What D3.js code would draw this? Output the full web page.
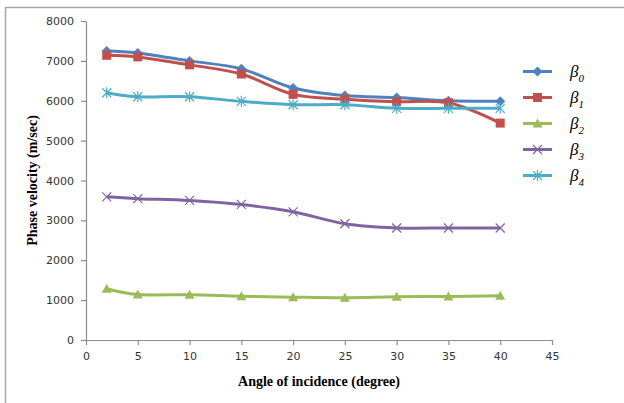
<!DOCTYPE html>
<html>
<head>
<meta charset="utf-8">
<script src="https://cdn.jsdelivr.net/npm/d3@7"></script>
<style>
  body { margin: 0; background: #fff; }
  svg { display: block; }
</style>
</head>
<body>
<div id="chart"></div>
<script>
// data
const angles = [2, 5, 10, 15, 20, 25, 30, 35, 40];
const beta0 = [7250, 7200, 7000, 6800, 6320, 6130, 6080, 6000, 5990];
const beta1 = [7140, 7100, 6900, 6670, 6160, 6040, 5975, 5950, 5440];
const beta2 = [1285, 1140, 1135, 1100, 1075, 1060, 1085, 1090, 1110];
const beta3 = [3590, 3545, 3500, 3400, 3215, 2915, 2810, 2810, 2810];
const beta4 = [6200, 6100, 6100, 5985, 5900, 5900, 5810, 5810, 5810];
const seriesNames = ["0", "1", "2", "3", "4"];
const xTicks = [0, 5, 10, 15, 20, 25, 30, 35, 40, 45];
const yTicks = [0, 1000, 2000, 3000, 4000, 5000, 6000, 7000, 8000];

const width = 624, height = 403;
const margin = {top: 21, right: 72, bottom: 63, left: 86};

const svg = d3.select("#chart")
  .append("svg")
    .attr("width", width)
    .attr("height", height);

// outer frame of the chart area
svg.append("rect")
  .attr("x", 5.5).attr("y", 7.5)
  .attr("width", 700).attr("height", 500)
  .attr("fill", "none")
  .attr("stroke", "#a6a6a6")
  .attr("stroke-width", 1.5);

const x = d3.scaleLinear()
  .domain([0, 45])
  .range([margin.left, width - margin.right]);
const y = d3.scaleLinear()
  .domain([0, 8000])
  .range([height - margin.bottom, margin.top]);

// axes
const xAxis = svg.append("g")
  .attr("transform", `translate(0, ${y(0)})`)
  .call(d3.axisBottom(x).tickValues(xTicks).tickFormat(d3.format("d"))
    .tickSize(5).tickSizeOuter(0).tickPadding(7));
const yAxis = svg.append("g")
  .attr("transform", `translate(${x(0)}, 0)`)
  .call(d3.axisLeft(y).tickValues(yTicks).tickFormat(d3.format("d"))
    .tickSize(5).tickSizeOuter(0).tickPadding(7));

[xAxis, yAxis].forEach(a => {
  a.selectAll("path, line").attr("stroke", "#8c8c8c").attr("stroke-width", 1.2);
  a.selectAll("text")
    .style("font-family", "DejaVu Sans, Verdana, sans-serif")
    .style("font-size", "11px")
    .attr("fill", "#333");
});

// axis titles
svg.append("text")
  .attr("x", x(22.5))
  .attr("y", 386)
  .attr("text-anchor", "middle")
  .style("font-family", "Liberation Serif, Times New Roman, serif")
  .style("font-weight", "bold")
  .style("font-size", "14px")
  .text("Angle of incidence (degree)");

svg.append("text")
  .attr("transform", `translate(37, ${y(4000)}) rotate(-90)`)
  .attr("text-anchor", "middle")
  .style("font-family", "Liberation Serif, Times New Roman, serif")
  .style("font-weight", "bold")
  .style("font-size", "14px")
  .text("Phase velocity (m/sec)");

const colors = ["#4f81bd", "#c0504d", "#9bbb59", "#8064a2", "#4bacc6"];
const allSeries = [beta0, beta1, beta2, beta3, beta4];

// marker shapes, one per series
function marker(g, i, color) {
  if (i === 0) {
    g.append("path").attr("d", "M0,-5L5,0L0,5L-5,0Z").attr("fill", color);
  } else if (i === 1) {
    g.append("rect").attr("x", -4.5).attr("y", -4.5).attr("width", 9).attr("height", 9).attr("fill", color);
  } else if (i === 2) {
    g.append("path").attr("d", "M0,-5L5,4L-5,4Z").attr("fill", color);
  } else if (i === 3) {
    g.append("path").attr("d", "M-4.5,-4.5L4.5,4.5M-4.5,4.5L4.5,-4.5")
      .attr("stroke", color).attr("stroke-width", 1.2).attr("fill", "none");
  } else {
    g.append("path").attr("d", "M-4.5,-4.5L4.5,4.5M-4.5,4.5L4.5,-4.5M0,-5.5L0,5.5")
      .attr("stroke", color).attr("stroke-width", 1.2).attr("fill", "none");
  }
}

const line = d3.line()
  .x(d => x(d[0]))
  .y(d => y(d[1]))
  .curve(d3.curveCardinal.tension(0));

allSeries.forEach((vals, i) => {
  const pts = angles.map((a, k) => [a, vals[k]]);
  svg.append("path")
    .datum(pts)
    .attr("d", line)
    .attr("fill", "none")
    .attr("stroke", colors[i])
    .attr("stroke-width", 3);
  pts.forEach(p => {
    const g = svg.append("g").attr("transform", `translate(${x(p[0])}, ${y(p[1])})`);
    marker(g, i, colors[i]);
  });
});

// legend
const legend = svg.append("g");
seriesNames.forEach((name, i) => {
  const ly = 71.5 + i * 26;
  legend.append("line")
    .attr("x1", 523).attr("x2", 552)
    .attr("y1", ly).attr("y2", ly)
    .attr("stroke", colors[i])
    .attr("stroke-width", 3);
  marker(legend.append("g").attr("transform", `translate(537.5, ${ly})`), i, colors[i]);
  const t = legend.append("text")
    .attr("x", 570)
    .attr("y", ly + 5)
    .style("font-family", "Liberation Serif, Times New Roman, serif")
    .style("font-style", "italic")
    .style("font-size", "17px")
    .attr("fill", "#000");
  t.append("tspan").text("β");
  t.append("tspan")
    .attr("dy", 5)
    .style("font-size", "11px")
    .text(name);
});
</script>
</body>
</html>
